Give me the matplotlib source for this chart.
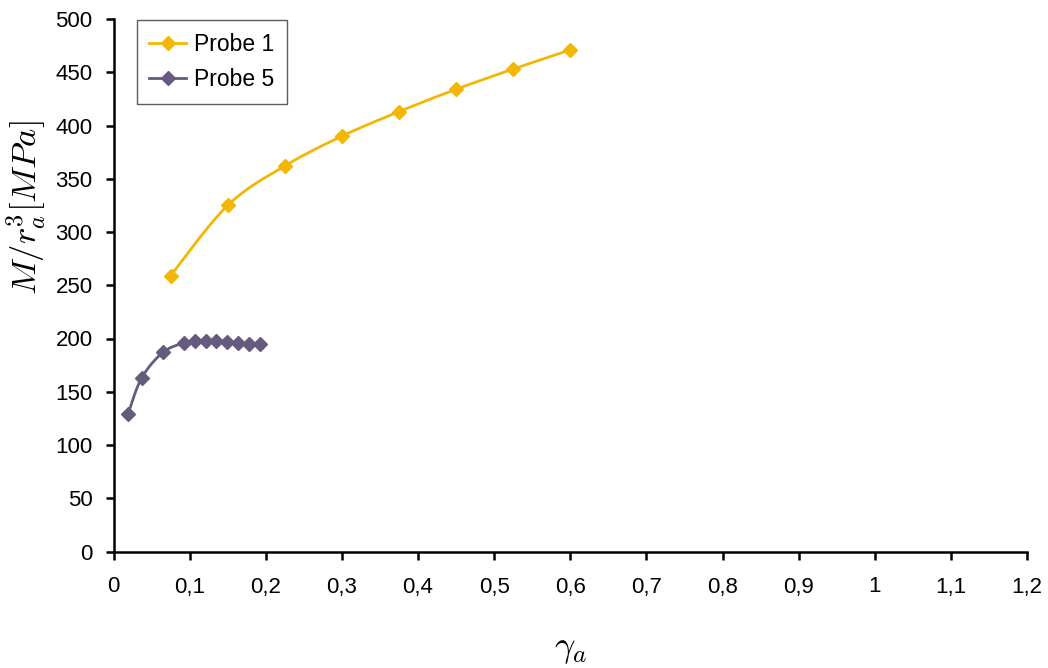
import matplotlib
matplotlib.use('Agg')
import numpy as np
import matplotlib.pyplot as plt

plt.rcParams['font.family'] = ['Liberation Sans', 'DejaVu Sans']
plt.rcParams['mathtext.fontset'] = 'cm'

# values
probe1_x = [0.075, 0.15, 0.225, 0.3, 0.375, 0.45, 0.525, 0.6]
probe1_y = [259, 325, 362, 390, 413, 434, 453, 471]

probe5_x = [0.019, 0.037, 0.065, 0.093, 0.107, 0.121, 0.135, 0.149, 0.163, 0.178, 0.192]
probe5_y = [129, 163, 187, 196, 198, 198, 197.5, 196.5, 196, 195, 194.5]

x_ticks = [0, 0.1, 0.2, 0.3, 0.4, 0.5, 0.6, 0.7, 0.8, 0.9, 1.0, 1.1, 1.2]
y_ticks = [0, 50, 100, 150, 200, 250, 300, 350, 400, 450, 500]


def smooth(xs, ys, n=20):
    # Catmull-Rom curve through the points (like Excel's smoothed line)
    p = np.column_stack([xs, ys]).astype(float)
    p = np.vstack([p[0], p, p[-1]])
    out = []
    t = np.linspace(0, 1, n)[:, None]
    for i in range(1, len(p) - 2):
        p0, p1, p2, p3 = p[i - 1], p[i], p[i + 1], p[i + 2]
        seg = 0.5 * ((2 * p1) + (-p0 + p2) * t + (2 * p0 - 5 * p1 + 4 * p2 - p3) * t ** 2
                     + (-p0 + 3 * p1 - 3 * p2 + p3) * t ** 3)
        out.append(seg)
    c = np.vstack(out)
    return c[:, 0], c[:, 1]


fig = plt.figure(figsize=(10.48, 6.68), dpi=100)
ax = fig.add_axes([113.5 / 1048, 1 - 551.5 / 668, (1027 - 113.5) / 1048, (551.5 - 19) / 668])

c1 = '#F2B705'
c5 = '#665A7E'
ms = 7

sx, sy = smooth(probe1_x, probe1_y)
ax.plot(sx, sy, color=c1, lw=2)
ax.plot(probe1_x, probe1_y, 'D', color=c1, ms=ms, ls='none')
ax.plot([], [], color=c1, lw=2, marker='D', ms=ms, label='Probe 1')

sx, sy = smooth(probe5_x, probe5_y)
ax.plot(sx, sy, color=c5, lw=2)
ax.plot(probe5_x, probe5_y, 'D', color=c5, ms=ms, ls='none')
ax.plot([], [], color=c5, lw=2, marker='D', ms=ms, label='Probe 5')

ax.set_xlim(0, 1.2)
ax.set_ylim(0, 500)
ax.set_xticks(x_ticks)
ax.set_xticklabels([('%g' % v).replace('.', ',') for v in x_ticks])
ax.set_yticks(y_ticks)
ax.tick_params(labelsize=16, width=1.8, length=6, direction='out', pad=9)
ax.tick_params(axis='x', pad=12)

for s in ['top', 'right']:
    ax.spines[s].set_visible(False)
for s in ['left', 'bottom']:
    ax.spines[s].set_linewidth(1.8)

ax.set_xlabel(r'$\gamma_a$', fontsize=26, va='center')
ax.xaxis.set_label_coords(0.5, -(648 - 551.5) / 532.5)
ax.set_ylabel(r'$M/r_a^3[MPa]$', fontsize=25, va='center')
ax.yaxis.set_label_coords(-(113.5 - 26) / 913.5, (551.5 - 208) / 532.5)

leg = ax.legend(loc='upper left', bbox_to_anchor=(0.0254, 0.998), borderaxespad=0,
                fontsize=16.5, frameon=True, fancybox=False, edgecolor='#333333',
                handlelength=1.6, handletextpad=0.35, borderpad=0.55, labelspacing=0.55)
leg.get_frame().set_linewidth(1.0)

fig.savefig('out.png', dpi=100)
